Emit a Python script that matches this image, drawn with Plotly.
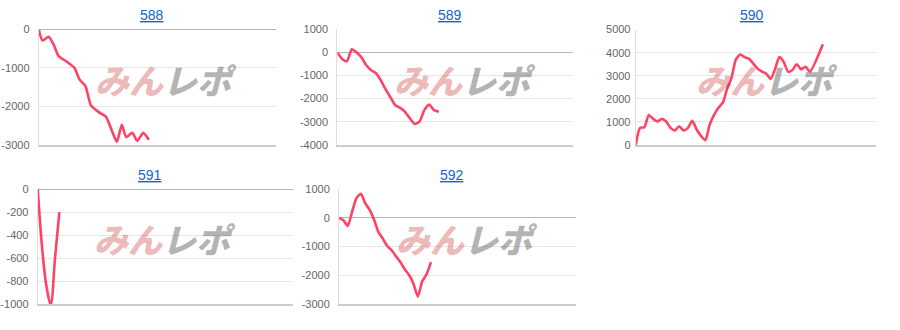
import plotly.graph_objects as go

# ---- data ----
titles = ["588", "589", "590", "591", "592"]

x_588 = [0, 0.7, 1.8, 2.7, 3.6, 5.0, 6.5, 7.4, 8.5, 9.5, 10.9, 12.2, 13.2, 14.2, 15.1, 15.9, 17.0, 17.9, 19.0, 20.0]
y_588 = [0, -290, -190, -390, -690, -830, -1000, -1300, -1480, -1980, -2150, -2270, -2600, -2920, -2480, -2800, -2690, -2900, -2690, -2870]

x_589 = list(range(22))
y_589 = [0, -280, -375, 140, 0, -210, -555, -765, -900, -1210, -1600, -1945, -2290, -2400, -2570, -2850, -3100, -2990, -2500, -2260, -2500, -2570]

x_590 = list(range(41)) + [43]
y_590 = [0, 740, 770, 1300, 1130, 1020, 1130, 1020, 740, 630, 810, 630, 740, 1050, 670, 390, 210, 880, 1300, 1610,
         1830, 2440, 2900, 3700, 3920, 3810, 3740, 3530, 3310, 3180, 3090, 2860, 3280, 3810, 3600, 3180, 3250, 3500,
         3280, 3390, 3180, 4370]

x_591 = [0, 1, 2, 3, 4, 5]
y_591 = [0, -500, -840, -1000, -600, -200]

x_592 = list(range(22))
y_592 = [0, -80, -280, 220, 690, 840, 500, 280, -55, -500, -725, -980, -1120, -1340, -1540, -1790, -1990, -2290,
         -2740, -2210, -1960, -1540]

ticks_588 = [0, -1000, -2000, -3000]
ticks_589 = [1000, 0, -1000, -2000, -3000, -4000]
ticks_590 = [5000, 4000, 3000, 2000, 1000, 0]
ticks_591 = [0, -200, -400, -600, -800, -1000]
ticks_592 = [1000, 0, -1000, -2000, -3000]

series = [(x_588, y_588, ticks_588), (x_589, y_589, ticks_589), (x_590, y_590, ticks_590),
          (x_591, y_591, ticks_591), (x_592, y_592, ticks_592)]

# ---- layout (pixel geometry) ----
W, H = 900, 330
plot_boxes = [  # left, right, top, bottom in px
    (38.7, 276.0, 24.3, 144.0),
    (337.3, 573.3, 24.3, 144.0),
    (635.7, 876.0, 24.5, 144.2),
    (37.7, 292.7, 190.0, 309.3),
    (339.0, 576.0, 190.0, 309.3),
]
x_max = [43.1, 48.8, 55.2, 58.9, 54.1]
standoff = [6, 6, 2, 6, 6]
title_pos = [(151.7, 9.3), (450.0, 9.3), (752.0, 9.3), (150.3, 175.0), (452.0, 175.0)]
logo_pos = [(166, 76), (465, 76), (767, 76), (165, 241), (467, 241)]
shape_smooth = [0.6, 0.6, 0.6, 1.0, 0.6]

LINE = "#fd4466"
GRID = "#e6e6e6"

fig = go.Figure()
layout = dict(
    width=W, height=H, margin=dict(l=0, r=0, t=0, b=0),
    paper_bgcolor="white", plot_bgcolor="white", showlegend=False,
    font=dict(family="Liberation Sans, Arial", size=11, color="#666666"),
)
annotations = []

for i, ((xs, ys, tks), box) in enumerate(zip(series, plot_boxes)):
    n = "" if i == 0 else str(i + 1)
    l, r, t, b = box
    rng = [min(tks), max(tks)]
    layout["xaxis" + n] = dict(
        domain=[l / W, r / W], anchor="y" + n, range=[0, x_max[i]],
        showgrid=False, zeroline=False, showticklabels=False, ticks="",
        showline=True, linecolor="#cccccc", linewidth=1.5, fixedrange=True,
    )
    layout["yaxis" + n] = dict(
        domain=[1 - b / H, 1 - t / H], anchor="x" + n, range=rng,
        tickvals=tks, ticktext=[str(v) for v in tks], ticks="",
        showgrid=True, gridcolor=GRID, gridwidth=1,
        zeroline=True, zerolinecolor="#b5b5b5", zerolinewidth=1,
        showline=True, linecolor="#dedede", linewidth=1,
        ticklabelstandoff=standoff[i], fixedrange=True,
        tickfont=dict(family="Liberation Sans, Arial", size=11, color="#666666"),
    )
    lx, ly = logo_pos[i]
    annotations.append(dict(
        x=lx / W, y=1 - ly / H, xref="paper", yref="paper", showarrow=False,
        text="<b><span style='color:rgba(205,55,55,0.36)'>みん</span>"
             "<span style='color:rgba(95,95,95,0.48)'>レポ</span></b>",
        xanchor="center", yanchor="middle",
        font=dict(family="Noto Sans CJK JP Black, Noto Sans CJK JP", size=34, weight=900, style="italic"),
    ))
    fig.add_trace(go.Scatter(
        x=xs, y=ys, mode="lines", xaxis="x" + n, yaxis="y" + n,
        line=dict(color=LINE, width=2.6, shape="spline", smoothing=shape_smooth[i]),
        hoverinfo="skip",
    ))
    tx, ty = title_pos[i]
    annotations.append(dict(
        x=tx / W, y=1 - ty / H, xref="paper", yref="paper", showarrow=False,
        text="<u>" + titles[i] + "</u>", xanchor="center", yanchor="middle",
        font=dict(family="Liberation Sans, Arial", size=14, color="#1166cc"),
    ))

layout["annotations"] = annotations
fig.update_layout(**layout)
fig.write_html("out.html")
